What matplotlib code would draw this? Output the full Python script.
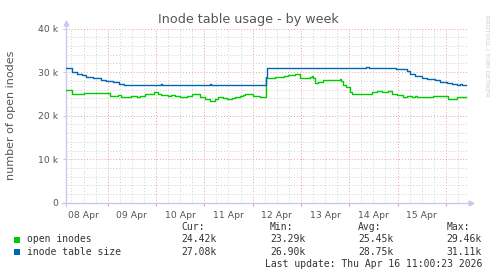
import matplotlib
matplotlib.use("Agg")
import matplotlib.pyplot as plt
from matplotlib.patches import Rectangle

# time axis: days since 08 Apr 00:00
open_t = [0.14, 0.27, 0.41, 0.50, 1.05, 1.22, 1.28, 1.48, 1.60, 1.67, 1.77, 1.96, 2.05,
          2.10, 2.25, 2.32, 2.39, 2.50, 2.64, 2.74, 2.91, 3.01, 3.12, 3.19, 3.22, 3.29,
          3.39, 3.46, 3.53, 3.57, 3.64, 3.74, 3.81, 3.84, 4.01, 4.15, 4.28, 4.46, 4.64,
          4.74, 4.88, 4.98, 5.19, 5.22, 5.26, 5.29, 5.36, 5.46, 5.81, 5.84, 5.88, 5.93,
          5.98, 6.02, 6.05, 6.26, 6.36, 6.47, 6.57, 6.67, 6.81, 6.88, 6.98, 7.12, 7.19,
          7.29, 7.36, 7.40, 7.74, 8.05, 8.23, 8.33, 8.41]
open_v = [25.8, 24.9, 25.1, 25.3, 24.6, 24.8, 24.3, 24.5, 24.3, 24.6, 25.0, 25.4, 25.1,
          24.7, 24.5, 24.8, 24.5, 24.4, 24.6, 24.9, 24.4, 23.8, 23.3, 23.4, 23.8, 24.2,
          24.0, 23.8, 23.9, 24.1, 24.4, 24.5, 24.8, 25.1, 24.6, 24.2, 28.6, 28.9, 29.1,
          29.4, 29.5, 28.7, 28.9, 29.2, 28.7, 27.6, 27.7, 28.2, 28.4, 28.0, 27.1, 26.6,
          26.5, 25.5, 24.9, 25.1, 25.1, 25.4, 25.7, 25.5, 25.7, 25.1, 24.7, 24.2, 24.5,
          24.2, 24.5, 24.2, 24.5, 23.8, 24.2, 24.4, 24.4]

size_t = [0.14, 0.26, 0.36, 0.46, 0.55, 0.70, 0.86, 0.96, 1.10, 1.24, 1.34, 2.11, 2.13,
          3.11, 3.13, 4.27, 4.29, 5.30, 5.40, 5.60, 5.65, 5.90, 5.95, 6.00, 6.05, 6.15,
          6.20, 6.35, 6.40, 6.97, 7.19, 7.26, 7.36, 7.50, 7.60, 7.78, 7.88, 8.02, 8.12,
          8.23, 8.29, 8.33, 8.41]
size_v = [30.9, 30.1, 29.7, 29.4, 29.0, 28.6, 28.2, 28.0, 27.7, 27.4, 27.0, 27.2, 27.0,
          27.2, 27.0, 29.0, 30.9, 31.0, 30.9, 31.0, 30.9, 31.0, 30.9, 31.0, 30.9, 31.0,
          30.9, 31.1, 30.9, 30.7, 30.3, 29.7, 29.1, 28.7, 28.4, 28.1, 27.8, 27.6, 27.3,
          27.1, 27.2, 27.1, 27.1]

day_labels = ["08 Apr", "09 Apr", "10 Apr", "11 Apr", "12 Apr", "13 Apr", "14 Apr", "15 Apr"]
y_ticks = [0, 10, 20, 30, 40]
y_tick_labels = ["0", "10 k", "20 k", "30 k", "40 k"]

series_names = ["open inodes", "inode table size"]
series_colors = ["#00cc00", "#0066b3"]
stat_cur = ["24.42k", "27.08k"]
stat_min = ["23.29k", "26.90k"]
stat_avg = ["25.45k", "28.75k"]
stat_max = ["29.46k", "31.11k"]

W, H = 497, 276
fig = plt.figure(figsize=(W / 100, H / 100), dpi=100)
ax = fig.add_axes([66.3 / W, 1 - 202.7 / H, (468 - 66.3) / W, 174 / H])

ax.set_xlim(0.143, 8.459)
ax.set_ylim(0, 40)

# grid
major_col = "#eda0a0"
minor_col = "#d0d0d0"
for d in range(1, 9):
    ax.axvline(d, color=major_col, lw=0.7, ls=(0, (1, 2)), zorder=1)
    for q in (0.25, 0.5, 0.75):
        if d - 1 + q > 0.143:
            ax.axvline(d - 1 + q, color=minor_col, lw=0.7, ls=(0, (1, 2)), zorder=1)
for q in (0.25, 0.5, 0.75):
    ax.axvline(8 + q, color=minor_col, lw=0.7, ls=(0, (1, 2)), zorder=1)
for yv in range(2, 41, 2):
    if yv % 10 == 0:
        ax.axhline(yv, color=major_col, lw=0.7, ls=(0, (1, 2)), zorder=1)
    else:
        ax.axhline(yv, color=minor_col, lw=0.7, ls=(0, (1, 2)), zorder=1)

ax.plot(open_t, open_v, drawstyle="steps-post", color=series_colors[0], lw=1, zorder=3)
ax.plot(size_t, size_v, drawstyle="steps-post", color=series_colors[1], lw=1, zorder=3)

for s in ax.spines.values():
    s.set_visible(False)

# axis lines with arrows
axis_col = "#c8c8f0"
ax.plot([-0.01, 1.005], [0, 0], transform=ax.transAxes, color=axis_col, lw=1, clip_on=False)
ax.plot([0, 0], [-0.02, 1.03], transform=ax.transAxes, color=axis_col, lw=1, clip_on=False)
ax.plot([1.007], [0], marker=">", ms=3.5, color=axis_col, transform=ax.transAxes, clip_on=False)
ax.plot([0], [1.035], marker="^", ms=3.5, color=axis_col, transform=ax.transAxes, clip_on=False)

ax.set_xticks([d + 0.5 for d in range(8)])
ax.set_xticklabels(day_labels, fontsize=6.7, color="#555555")
ax.set_xticks(list(range(1, 9)), minor=True)
ax.tick_params(axis="x", which="major", length=0, pad=6)
ax.tick_params(axis="x", which="minor", length=2, color=major_col, width=0.8)
ax.set_yticks(y_ticks)
ax.set_yticklabels(y_tick_labels, fontsize=6.7, color="#555555")
ax.tick_params(axis="y", length=2, color="#c8c8f0", pad=4)

ax.set_ylabel("number of open inodes", fontsize=8, color="#555555")
ax.yaxis.set_label_coords(-0.124, 0.5)
fig.text(248 / W, 1 - 20 / H, "Inode table usage - by week", fontsize=9.2,
         color="#555555", ha="center", va="center")
fig.text(487 / W, 1 - 56 / H, "RRDTOOL / TOBI OETIKER", fontsize=4.6, color="#cccccc",
         rotation=270, ha="center", va="center")

# legend
mono = "DejaVu Sans Mono"
tc = "#333333"
fig.text(181.7 / W, 1 - 227.5 / H, "Cur:", family=mono, fontsize=7, color=tc, va="center")
fig.text(270 / W, 1 - 227.5 / H, "Min:", family=mono, fontsize=7, color=tc, va="center")
fig.text(358.3 / W, 1 - 227.5 / H, "Avg:", family=mono, fontsize=7, color=tc, va="center")
fig.text(446.7 / W, 1 - 227.5 / H, "Max:", family=mono, fontsize=7, color=tc, va="center")
for i, name in enumerate(series_names):
    yy = 239.5 + i * 12.3
    fig.add_artist(Rectangle((14 / W, 1 - (yy + 3) / H), 6 / W, 6 / H,
                             transform=fig.transFigure, color=series_colors[i], lw=0))
    fig.text(26.7 / W, 1 - yy / H, name, family=mono, fontsize=7, color=tc, va="center")
    fig.text(181.7 / W, 1 - yy / H, stat_cur[i], family=mono, fontsize=7, color=tc, va="center")
    fig.text(270 / W, 1 - yy / H, stat_min[i], family=mono, fontsize=7, color=tc, va="center")
    fig.text(358.3 / W, 1 - yy / H, stat_avg[i], family=mono, fontsize=7, color=tc, va="center")
    fig.text(446.7 / W, 1 - yy / H, stat_max[i], family=mono, fontsize=7, color=tc, va="center")
fig.text(482.7 / W, 1 - 264 / H, "Last update: Thu Apr 16 11:00:23 2026", family=mono,
         fontsize=7, color=tc, ha="right", va="center")

fig.savefig("out.png", dpi=100)
